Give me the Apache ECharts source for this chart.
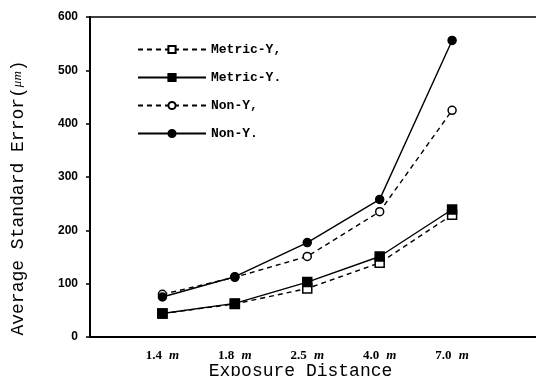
<!DOCTYPE html>
<html>
<head>
<meta charset="utf-8">
<script src="https://cdn.jsdelivr.net/npm/echarts@6/dist/echarts.min.js"></script>
<style>
html, body { margin: 0; padding: 0; background: #fff; }
#chart { width: 536px; height: 376px; }
</style>
</head>
<body>
<div id="chart"></div>
<script>
// 距离类别
var distances = ['1.4', '1.8', '2.5', '4.0', '7.0'];
var yTicks = [0, 100, 200, 300, 400, 500, 600];

var metricOpen = [44, 62, 91, 139, 229];
var metricFilled = [44, 63, 103, 151, 239];
var nonOpen = [80, 112, 151, 235, 425];
var nonFilled = [75, 113, 177, 258, 556];

var names = ['Metric-Y,', 'Metric-Y.', 'Non-Y,', 'Non-Y.'];

var toPairs = function(arr) {
	var out = [];
	for (var i = 0; i < arr.length; i++) {
		out.push([i + 1, arr[i]]);
	}
	return out;
};

var mkSeries = function(name, data, symbol, filled, dashed) {
	return {
		name: name,
		type: 'line',
		data: toPairs(data),
		symbol: symbol,
		symbolSize: symbol == 'rect' ? 9 : 8,
		showSymbol: true,
		itemStyle: {
			color: filled ? '#000' : '#fff',
			borderColor: '#000',
			borderWidth: 1.5
		},
		lineStyle: {
			color: '#000',
			width: 1.4,
			type: dashed ? [5, 4] : 'solid'
		},
		emphasis: { disabled: true }
	};
};

var myChart = echarts.init(document.getElementById('chart'));
var option = {
	animation: false,
	backgroundColor: '#fff',
	textStyle: { fontFamily: 'Liberation Mono', color: '#000' },
	grid: {
		left: 90, top: 17, right: -3, bottom: 39,
		outerBoundsMode: 'none',
		show: true,
		borderColor: '#000',
		borderWidth: 1.5
	},
	legend: {
		orient: 'vertical',
		left: 132,
		top: 38,
		itemWidth: 68,
		itemHeight: 9,
		itemGap: 15,
		data: names,
		textStyle: { fontFamily: 'Liberation Mono', fontSize: 13, color: '#000', fontWeight: 'bold' }
	},
	xAxis: {
		type: 'value',
		min: 0,
		max: 6.2,
		interval: 1,
		splitLine: { show: false },
		axisTick: { show: false },
		axisLine: { lineStyle: { color: '#000', width: 2 } },
		axisLabel: {
			margin: 12,
			showMaxLabel: false,
			formatter: function(v) {
				var d = distances[v - 1];
				return d ? '{n|' + d + '} {m|m}' : '';
			},
			rich: {
				n: { fontFamily: 'Liberation Serif', fontSize: 13, fontWeight: 'bold', color: '#000' },
				m: { fontFamily: 'Liberation Serif', fontSize: 13, fontStyle: 'italic', fontWeight: 'bold', color: '#000' }
			}
		},
		name: 'Exposure Distance',
		nameLocation: 'middle',
		nameMoveOverlap: false,
		nameGap: 25,
		nameTextStyle: {
			fontFamily: 'Liberation Mono', fontSize: 18, color: '#000',
			padding: [0, 28, 0, 0]
		}
	},
	yAxis: {
		type: 'value',
		min: yTicks[0],
		max: yTicks[yTicks.length - 1],
		interval: 100,
		splitLine: { show: false },
		axisTick: { show: true, length: 4, lineStyle: { color: '#000', width: 1.5 } },
		axisLine: { show: true, lineStyle: { color: '#000', width: 2 } },
		axisLabel: {
			margin: 12,
			fontFamily: 'Liberation Sans',
			fontSize: 12,
			fontWeight: 'bold',
			color: '#000'
		},
		name: 'Average Standard Error({u|\u03bcm})',
		nameLocation: 'middle',
		nameMoveOverlap: false,
		nameGap: 63,
		nameTextStyle: {
			fontFamily: 'Liberation Mono', fontSize: 18, color: '#000',
			padding: [0, 42, 0, 0],
			rich: {
				u: { fontFamily: 'Liberation Serif', fontSize: 13, fontStyle: 'italic', color: '#000' }
			}
		}
	},
	series: [
		mkSeries(names[0], metricOpen, 'rect', false, true),
		mkSeries(names[1], metricFilled, 'rect', true, false),
		mkSeries(names[2], nonOpen, 'circle', false, true),
		mkSeries(names[3], nonFilled, 'circle', true, false)
	]
};
myChart.setOption(option);
</script>
</body>
</html>
